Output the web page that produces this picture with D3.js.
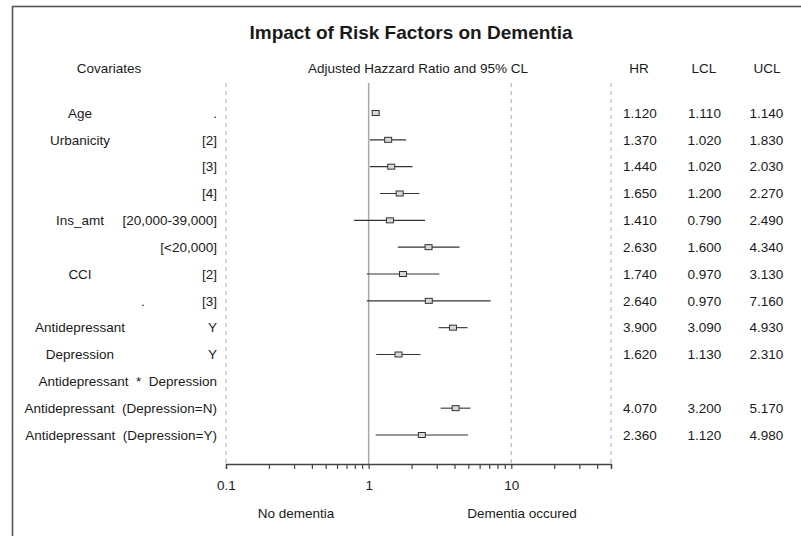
<!DOCTYPE html>
<html>
<head>
<meta charset="utf-8">
<script src="https://cdn.jsdelivr.net/npm/d3@7"></script>
<style>
  html, body { margin: 0; padding: 0; background: #fff; }
  svg text { font-family: "Liberation Sans", Arial, sans-serif; fill: #1a1a1a; }
</style>
</head>
<body>
<svg id="chart" width="801" height="536"></svg>
<script>
/* ---------- data ---------- */
const covNames = ["Age", "Urbanicity", "", "", "Ins_amt", "", "CCI", "", "Antidepressant", "Depression", "", "", ""];
const covLevels = [".", "[2]", "[3]", "[4]", "[20,000-39,000]", "[<20,000]", "[2]", "[3]", "Y", "Y",
  "Antidepressant  *  Depression", "Antidepressant  (Depression=N)", "Antidepressant  (Depression=Y)"];
const hrVals  = [1.12, 1.37, 1.44, 1.65, 1.41, 2.63, 1.74, 2.64, 3.90, 1.62, null, 4.07, 2.36];
const lclVals = [1.11, 1.02, 1.02, 1.20, 0.79, 1.60, 0.97, 0.97, 3.09, 1.13, null, 3.20, 1.12];
const uclVals = [1.14, 1.83, 2.03, 2.27, 2.49, 4.34, 3.13, 7.16, 4.93, 2.31, null, 5.17, 4.98];
const majorTicks = [0.1, 1, 10];
const minorTicks = [0.2, 0.3, 0.4, 0.5, 0.6, 0.7, 0.8, 0.9, 2, 3, 4, 5, 6, 7, 8, 9, 20, 30, 40, 50];
const dashedRefs = [0.1, 10, 50];

/* ---------- layout ---------- */
const svg = d3.select("#chart");
const FS = 13.5;

// outer frame (right/bottom edges fall outside the picture)
svg.append("rect")
  .attr("x", 12.5).attr("y", 6.5)
  .attr("width", 900).attr("height", 700)
  .attr("fill", "none").attr("stroke", "#555").attr("stroke-width", 1.6);

const x = d3.scaleLog().domain([0.1, 50]).range([226, 611]);
const y = d3.scalePoint().domain(d3.range(covLevels.length)).range([113, 435]);
const axisY = 464, plotTop = 83;

// title and headers
svg.append("text").attr("x", 411).attr("y", 39)
  .attr("text-anchor", "middle").attr("font-size", 19).attr("font-weight", "bold")
  .text("Impact of Risk Factors on Dementia");

const headers = [
  { t: "Covariates", x: 109 },
  { t: "Adjusted Hazzard Ratio and 95% CL", x: 418 },
  { t: "HR", x: 639 },
  { t: "LCL", x: 704 },
  { t: "UCL", x: 767 }
];
svg.selectAll(".hdr").data(headers).enter().append("text")
  .attr("x", d => d.x).attr("y", 68).attr("dy", "0.35em")
  .attr("text-anchor", "middle").attr("font-size", FS)
  .text(d => d.t);

// reference lines
svg.selectAll(".dash").data(dashedRefs).enter().append("line")
  .attr("x1", d => x(d)).attr("x2", d => x(d))
  .attr("y1", plotTop).attr("y2", axisY)
  .attr("stroke", "#b8b8b8").attr("stroke-width", 1.2)
  .attr("stroke-dasharray", "4,4");

svg.append("line")
  .attr("x1", x(1)).attr("x2", x(1))
  .attr("y1", plotTop).attr("y2", axisY)
  .attr("stroke", "#a8a8a8").attr("stroke-width", 1.5);

// row labels
const rows = d3.range(covLevels.length);
svg.selectAll(".name").data(rows).enter().append("text")
  .attr("x", 80).attr("y", i => y(i)).attr("dy", "0.35em")
  .attr("text-anchor", "middle").attr("font-size", FS)
  .text(i => covNames[i]);

svg.selectAll(".level").data(rows).enter().append("text")
  .attr("x", 217).attr("y", i => y(i)).attr("dy", "0.35em")
  .attr("text-anchor", "end").attr("font-size", FS)
  .style("white-space", "pre")
  .text(i => covLevels[i]);

// stray dot in the CCI [3] row, as in the original
svg.append("text").attr("x", 143).attr("y", y(7)).attr("dy", "0.35em")
  .attr("text-anchor", "middle").attr("font-size", FS).text(".");

// CI lines and markers
const est = rows.filter(i => hrVals[i] != null);
svg.selectAll(".ci").data(est).enter().append("line")
  .attr("x1", i => x(lclVals[i])).attr("x2", i => x(uclVals[i]))
  .attr("y1", i => y(i)).attr("y2", i => y(i))
  .attr("stroke", "#333").attr("stroke-width", 1.1);

svg.selectAll(".pt").data(est).enter().append("rect")
  .attr("x", i => x(hrVals[i]) - 3.5).attr("y", i => y(i) - 2.5)
  .attr("width", 7).attr("height", 5)
  .attr("fill", "#d8d8d8").attr("stroke", "#333").attr("stroke-width", 1);

// numeric table
const cols = [{ v: hrVals, x: 640 }, { v: lclVals, x: 704.5 }, { v: uclVals, x: 766.5 }];
cols.forEach(c => {
  svg.selectAll(null).data(est).enter().append("text")
    .attr("x", c.x).attr("y", i => y(i)).attr("dy", "0.35em")
    .attr("text-anchor", "middle").attr("font-size", FS)
    .text(i => d3.format(".3f")(c.v[i]));
});

// axis
const axis = d3.axisBottom(x)
  .tickValues(majorTicks.concat(minorTicks))
  .tickSize(5)
  .tickFormat(d => majorTicks.includes(d) ? String(d) : "");
const gAxis = svg.append("g").attr("transform", `translate(0,${axisY})`).call(axis);
gAxis.select(".domain").attr("stroke", "#444").attr("stroke-width", 1.4);
gAxis.selectAll(".tick line").attr("stroke", "#444").attr("stroke-width", 1.2);
gAxis.selectAll(".tick text")
  .attr("font-size", FS).attr("y", 16).attr("fill", "#1a1a1a")
  .attr("font-family", "Liberation Sans, Arial, sans-serif");

// direction labels
svg.append("text").attr("x", 296).attr("y", 513).attr("dy", "0.35em")
  .attr("text-anchor", "middle").attr("font-size", FS).text("No dementia");
svg.append("text").attr("x", 522).attr("y", 513).attr("dy", "0.35em")
  .attr("text-anchor", "middle").attr("font-size", FS).text("Dementia occured");
</script>
</body>
</html>
